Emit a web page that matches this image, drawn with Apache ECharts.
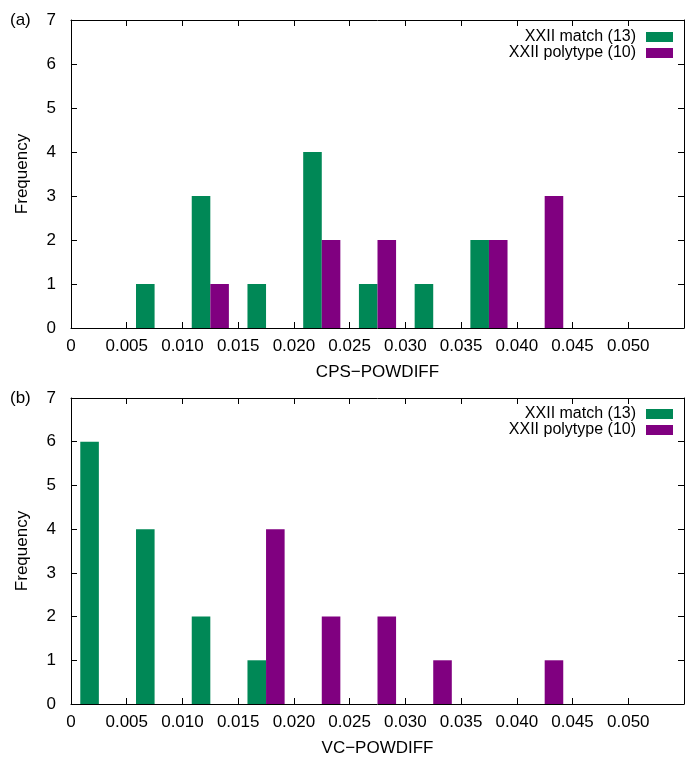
<!DOCTYPE html>
<html>
<head>
<meta charset="utf-8">
<script src="https://cdn.jsdelivr.net/npm/echarts@6/dist/echarts.min.js"></script>
<style>
  html, body { margin: 0; padding: 0; background: #fff; }
  #chart { width: 687px; height: 758px; }
</style>
</head>
<body>
<div id="chart"></div>
<script>
// Histogram bins: lower edges, bin width 0.005
const binStart = [0.000, 0.005, 0.010, 0.015, 0.020, 0.025, 0.030, 0.035, 0.040, 0.045, 0.050];
const binWidth = 0.005;

// Panel (a): CPS-POWDIFF counts per bin
const cpsMatch    = [0, 1, 3, 1, 4, 1, 1, 2, 0, 0, 0];
const cpsPolytype = [0, 0, 1, 0, 2, 2, 0, 2, 3, 0, 0];

// Panel (b): VC-POWDIFF counts per bin
const vcMatch     = [6, 4, 2, 1, 0, 0, 0, 0, 0, 0, 0];
const vcPolytype  = [0, 0, 0, 4, 2, 2, 1, 0, 1, 0, 0];

const nameMatch = 'XXII match (13)';
const namePoly  = 'XXII polytype (10)';
const colorMatch = '#008856';
const colorPoly  = '#800080';
const xTickValues = ['0', '0.005', '0.010', '0.015', '0.020', '0.025', '0.030', '0.035', '0.040', '0.045', '0.050'];

const FONT = 'Liberation Sans, Arial, Helvetica, sans-serif';

function toBars(counts) {
  const out = [];
  counts.forEach((c, i) => { if (c > 0) out.push([binStart[i], c]); });
  return out;
}

// side: -1 draws the left third-of-bin next to the centre, +1 the right one
function barRenderer(side) {
  return function (params, api) {
    const x0 = api.value(0);
    const h = api.value(1);
    const centre = x0 + binWidth / 2;
    const a = side < 0 ? centre - binWidth / 3 : centre;
    const b = side < 0 ? centre : centre + binWidth / 3;
    const p0 = api.coord([a, h]);
    const p1 = api.coord([b, 0]);
    return {
      type: 'rect',
      shape: { x: p0[0], y: p0[1], width: p1[0] - p0[0], height: p1[1] - p0[1] },
      style: { fill: api.visual('color') }
    };
  };
}

function tickLabel(v) {
  const idx = Math.round(v / binWidth);
  if (Math.abs(v - idx * binWidth) > 1e-9) return '';
  return idx < xTickValues.length ? xTickValues[idx] : '';
}

const axisLineStyle = { color: '#000', width: 1 };

function xAxes(gridIndex, title) {
  return [
    {
      type: 'value', gridIndex, position: 'bottom', min: 0, max: 0.055, interval: 0.005,
      axisLine: { show: true, onZero: false, lineStyle: axisLineStyle },
      axisTick: { show: true, inside: true, length: 6, lineStyle: axisLineStyle },
      splitLine: { show: false },
      axisLabel: { margin: 10, color: '#000', fontSize: 17, fontFamily: FONT, formatter: tickLabel },
      name: title, nameLocation: 'middle', nameGap: 36,
      nameTextStyle: { color: '#000', fontSize: 17, fontFamily: FONT }
    },
    {
      type: 'value', gridIndex, position: 'top', min: 0, max: 0.055, interval: 0.005,
      axisLine: { show: true, onZero: false, lineStyle: axisLineStyle },
      axisTick: { show: true, inside: true, length: 6, lineStyle: axisLineStyle },
      splitLine: { show: false }, axisLabel: { show: false }
    }
  ];
}

function yAxes(gridIndex) {
  return [
    {
      type: 'value', gridIndex, position: 'left', min: 0, max: 7, interval: 1,
      axisLine: { show: true, onZero: false, lineStyle: axisLineStyle },
      axisTick: { show: true, inside: true, length: 6, lineStyle: axisLineStyle },
      splitLine: { show: false },
      axisLabel: { margin: 15, color: '#000', fontSize: 17, fontFamily: FONT },
      name: 'Frequency', nameLocation: 'middle', nameGap: 40,
      nameTextStyle: { color: '#000', fontSize: 17, fontFamily: FONT }
    },
    {
      type: 'value', gridIndex, position: 'right', min: 0, max: 7, interval: 1,
      axisLine: { show: true, onZero: false, lineStyle: axisLineStyle },
      axisTick: { show: true, inside: true, length: 6, lineStyle: axisLineStyle },
      splitLine: { show: false }, axisLabel: { show: false }
    }
  ];
}

function legendAt(top) {
  return {
    data: [nameMatch, namePoly],
    orient: 'vertical', align: 'right', right: 14, top: top, padding: 0,
    itemWidth: 27, itemHeight: 10, itemGap: 0, icon: 'rect',
    selectedMode: false,
    textStyle: { color: '#000', fontSize: 16, fontFamily: FONT, lineHeight: 16, padding: [0, 5, 0, 0] }
  };
}

function panelSeries(gridIdx, match, poly) {
  const xi = gridIdx * 2, yi = gridIdx * 2;
  return [
    { type: 'custom', name: nameMatch, xAxisIndex: xi, yAxisIndex: yi,
      itemStyle: { color: colorMatch }, renderItem: barRenderer(-1), data: toBars(match), clip: true },
    { type: 'custom', name: namePoly, xAxisIndex: xi, yAxisIndex: yi,
      itemStyle: { color: colorPoly }, renderItem: barRenderer(1), data: toBars(poly), clip: true }
  ];
}

const chart = echarts.init(document.getElementById('chart'), null, { renderer: 'canvas' });
chart.setOption({
  animation: false,
  backgroundColor: '#fff',
  grid: [
    { left: 71, top: 20, width: 617, height: 308 },
    { left: 71, top: 398, width: 617, height: 308 }
  ],
  xAxis: [].concat(xAxes(0, 'CPS\u2212POWDIFF'), xAxes(1, 'VC\u2212POWDIFF')),
  yAxis: [].concat(yAxes(0), yAxes(1)),
  legend: [legendAt(29), legendAt(406)],
  graphic: [
    { type: 'text', left: 10, top: 12, style: { text: '(a)', fill: '#000', font: '17px ' + FONT } },
    { type: 'text', left: 10, top: 390, style: { text: '(b)', fill: '#000', font: '17px ' + FONT } }
  ],
  series: [].concat(panelSeries(0, cpsMatch, cpsPolytype), panelSeries(1, vcMatch, vcPolytype))
});
</script>
</body>
</html>
